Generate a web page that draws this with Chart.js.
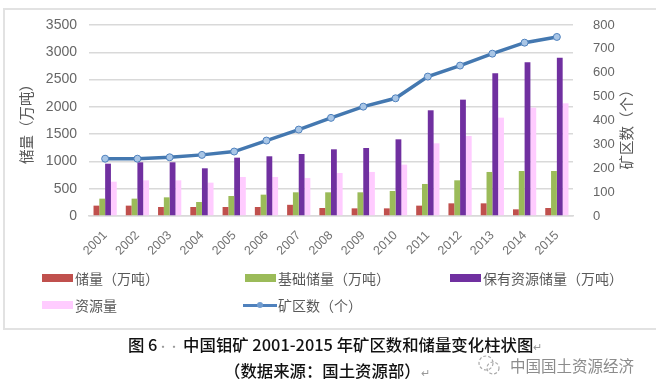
<!DOCTYPE html>
<html>
<head>
    <meta charset="utf-8">
    <title>中国钼矿 2001-2015 年矿区数和储量变化柱状图</title>
    <style>
        html, body { margin: 0; padding: 0; background: #fff; }
        body { width: 656px; height: 386px; position: relative; overflow: hidden; font-family: "Noto Sans CJK SC", sans-serif; }
        #frame { position: absolute; left: 3px; top: 8px; width: 660px; height: 318px; border: 2px solid #e2e2e2; box-sizing: content-box; }
        #chartBox { position: absolute; left: 0; top: 0; width: 656px; height: 386px; }
        .legendItem { position: absolute; height: 20px; line-height: 20px; font-size: 14px; color: #595959; white-space: nowrap; }
        .swatch { position: absolute; left: 0; top: 6px; width: 31px; height: 8px; }
        .legendItem span.label { position: absolute; left: 33px; top: 0; }
        .caption { position: absolute; white-space: nowrap; color: #111; font-size: 16.4px; line-height: 20px; font-weight: 500; }
        .mark { color: #999; font-size: 11px; font-weight: 400; }
        #watermark { position: absolute; left: 510px; top: 355px; font-size: 15.5px; line-height: 20px; color: #8c8c8c; white-space: nowrap; }
        #wechat { position: absolute; left: 476px; top: 353px; }
        /* chart.js turns a right axis title the other way round, so this one is a div */
        #rightTitle { position: absolute; left: 626px; top: 126px; width: 100px; height: 20px; margin: -10px 0 0 -50px; line-height: 20px; text-align: center;
                      font-size: 14.5px; color: #595959; white-space: nowrap; transform: rotate(-90deg); }
    </style>
    <script src="https://cdn.jsdelivr.net/npm/chart.js"></script>
</head>
<body>
    <div id="frame"></div>
    <div id="chartBox"><canvas id="myChart" width="656" height="386"></canvas></div>
    <div id="rightTitle">矿区数（个）</div>
    <div id="legend"></div>
    <div class="caption" style="left:128px; top:334px;">图 6<span class="mark">··</span> 中国钼矿 2001-2015 年矿区数和储量变化柱状图<span class="mark">↵</span></div>
    <div class="caption" style="left:224px; top:360px;">（数据来源：国土资源部）<span class="mark">↵</span></div>
    <svg id="wechat" width="26" height="24" viewBox="0 0 26 24">
        <circle cx="10" cy="10" r="7" fill="none" stroke="#aaa" stroke-width="1.2" stroke-dasharray="3 2"/>
        <circle cx="17" cy="15" r="6" fill="none" stroke="#aaa" stroke-width="1.2" stroke-dasharray="3 2"/>
    </svg>
    <div id="watermark">中国国土资源经济</div>

    <script>
        const years = ['2001','2002','2003','2004','2005','2006','2007','2008','2009','2010','2011','2012','2013','2014','2015'];
        const reserves = [190,190,165,165,165,165,205,147,140,140,190,232,232,122,147];
        const baseReserves = [318,318,342,257,367,391,434,434,434,458,587,654,807,825,825];
        const retainedReserves = [959,984,984,874,1069,1094,1136,1222,1246,1405,1937,2132,2615,2817,2902];
        const resources = [629,654,654,611,715,715,697,788,807,941,1332,1466,1802,1986,2065];
        const mineCount = [240,240,246,256,270,316,362,411,458,493,584,630,680,726,750];

        const grey = '#595959';
        const latin = '"Liberation Sans", sans-serif';
        const cjk = '"Noto Sans CJK SC", sans-serif';

        function bar(label, data, color) {
            return { type: 'bar', label: label, data: data, backgroundColor: color, yAxisID: 'y', order: 2,
                     categoryPercentage: 0.72, barPercentage: 1 };
        }

        const datasets = [
            bar('储量（万吨）', reserves, '#c0504d'),
            bar('基础储量（万吨）', baseReserves, '#9bbb59'),
            bar('保有资源储量（万吨）', retainedReserves, '#7030a0'),
            bar('资源量', resources, '#ffccff'),
            { type: 'line', label: '矿区数（个）', data: mineCount, yAxisID: 'y1', order: 1,
              borderColor: '#4478b0', borderWidth: 3.5, tension: 0, pointRadius: 3.5,
              pointBackgroundColor: '#a9c6e6', pointBorderColor: '#4f81bd', pointBorderWidth: 1 }
        ];

        function plainNumber(v) { return String(v); }

        new Chart(document.getElementById('myChart').getContext('2d'), {
            data: { labels: years, datasets: datasets },
            options: {
                responsive: false,
                animation: false,
                layout: { padding: { top: 25, left: 0, right: 0, bottom: 0 } },
                plugins: { legend: { display: false }, tooltip: { enabled: false } },
                scales: {
                    x: {
                        grid: { display: false },
                        border: { color: '#d9d9d9', width: 1.5 },
                        ticks: { color: '#737373', font: { family: latin, size: 12.5 }, maxRotation: 45, minRotation: 45, padding: 4, autoSkip: false },
                        afterFit: function(s) { s.height = 170; }
                    },
                    y: {
                        position: 'left', min: 0, max: 3500,
                        grid: { color: '#d9d9d9', lineWidth: 1.5, drawTicks: false },
                        border: { display: false },
                        ticks: { stepSize: 500, color: '#666', font: { family: latin, size: 14 }, padding: 12, callback: plainNumber },
                        title: { display: true, text: '储量（万吨）', color: grey, font: { family: cjk, size: 14.5 }, padding: { top: 18, bottom: 0 } },
                        afterFit: function(s) { s.width = 89; }
                    },
                    y1: {
                        position: 'right', min: 0, max: 800,
                        grid: { display: false },
                        border: { display: false },
                        ticks: { stepSize: 100, color: '#666', font: { family: latin, size: 13 }, padding: 12, callback: plainNumber },
                        afterFit: function(s) { s.width = 83; }
                    }
                }
            }
        });

        // legend sits in its own two rows, like the office chart it was copied from
        const legendSpots = [[42,268],[245,268],[450,268],[42,295],[245,295]];
        const legendBox = document.getElementById('legend');
        datasets.forEach(function(d, i) {
            const item = document.createElement('div');
            item.className = 'legendItem';
            item.style.left = legendSpots[i][0] + 'px';
            item.style.top = legendSpots[i][1] + 'px';
            item.style.width = '200px';
            let mark;
            if (d.type === 'line') {
                mark = '<span style="position:absolute;left:-2px;top:9px;width:34px;height:3px;background:#4f81bd"></span>' +
                       '<span style="position:absolute;left:12px;top:7px;width:6px;height:6px;border-radius:50%;background:#6f9bcf"></span>';
            } else {
                mark = '<span class="swatch" style="background:' + d.backgroundColor + '"></span>';
            }
            item.innerHTML = mark + '<span class="label">' + d.label + '</span>';
            legendBox.appendChild(item);
        });
    </script>
</body>
</html>
